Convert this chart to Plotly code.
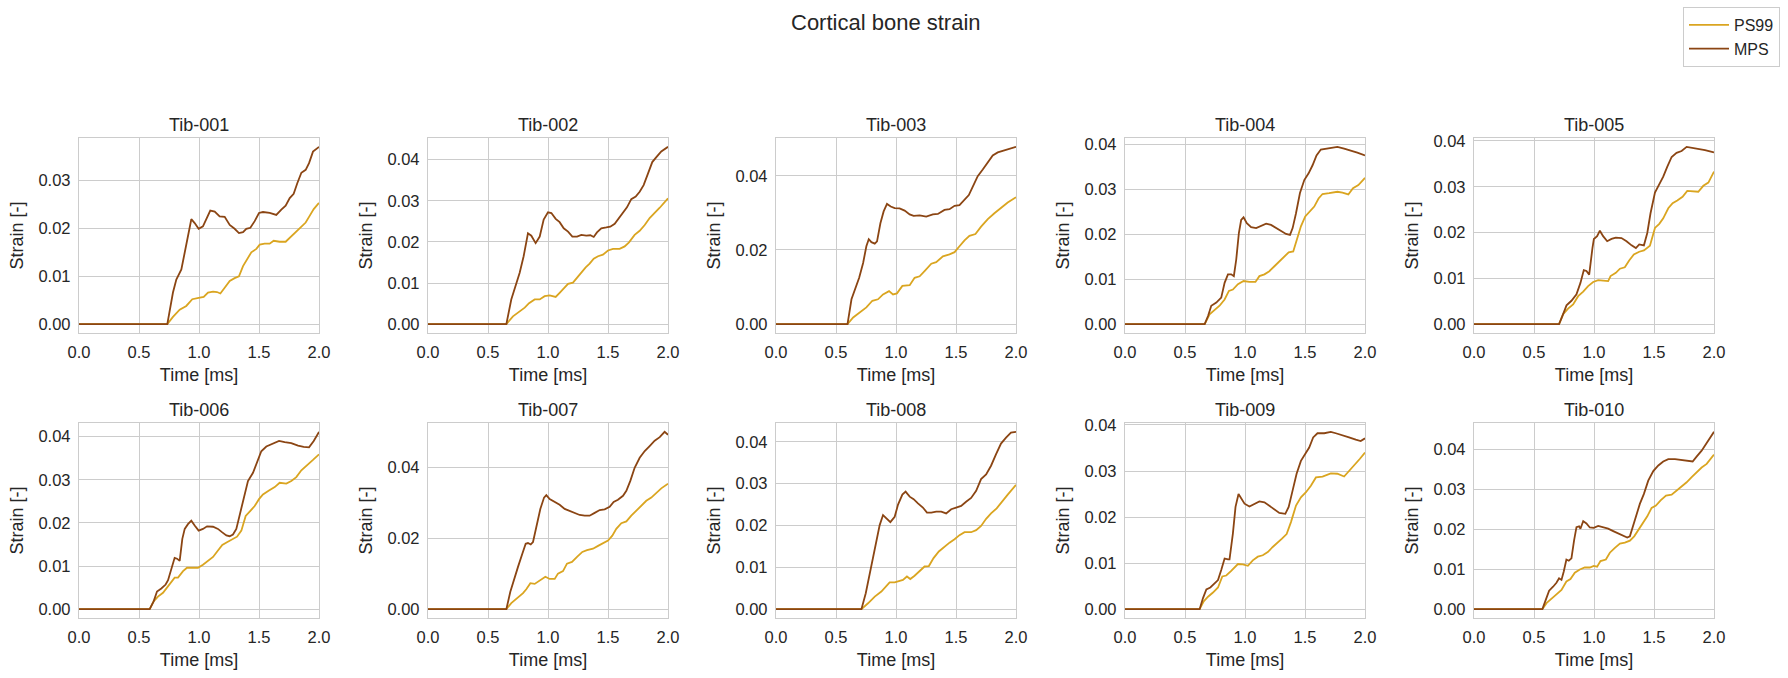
import plotly.graph_objects as go
from plotly.subplots import make_subplots

# ---------------- data (time [ms], strain [-]) ----------------
SPECIMENS = ["Tib-001", "Tib-002", "Tib-003", "Tib-004", "Tib-005",
             "Tib-006", "Tib-007", "Tib-008", "Tib-009", "Tib-010"]
Y_DTICK = [0.01, 0.01, 0.02, 0.01, 0.01, 0.01, 0.02, 0.01, 0.01, 0.01]
X_TICKS = [0.0, 0.5, 1.0, 1.5, 2.0]

TIB001_PS99 = [(0.0, 0.0), (0.736, 0.0), (0.783, 0.0015), (0.839, 0.0030), (0.894, 0.0038), (0.944, 0.0052),
               (0.997, 0.0055), (1.039, 0.0057), (1.075, 0.0066), (1.117, 0.0068), (1.150, 0.0067), (1.178, 0.0064),
               (1.214, 0.0076), (1.256, 0.0090), (1.297, 0.0096), (1.333, 0.0100), (1.367, 0.0121), (1.400, 0.0136),
               (1.436, 0.0150), (1.478, 0.0157), (1.506, 0.0166), (1.547, 0.0168), (1.589, 0.0168), (1.622, 0.0174),
               (1.672, 0.0172), (1.722, 0.0172), (1.769, 0.0183), (1.811, 0.0192), (1.853, 0.0203), (1.889, 0.0212),
               (1.922, 0.0226), (1.956, 0.0240), (2.0, 0.0253)]
TIB001_MPS = [(0.0, 0.0), (0.736, 0.0), (0.783, 0.0066), (0.811, 0.0093), (0.853, 0.0114), (0.894, 0.0163),
              (0.936, 0.0219), (0.964, 0.0211), (0.997, 0.0199), (1.033, 0.0204), (1.061, 0.0218), (1.094, 0.0237),
              (1.131, 0.0235), (1.172, 0.0225), (1.214, 0.0224), (1.256, 0.0207), (1.297, 0.0199), (1.333, 0.0190),
              (1.367, 0.0192), (1.394, 0.0199), (1.428, 0.0201), (1.464, 0.0215), (1.500, 0.0232), (1.533, 0.0234),
              (1.589, 0.0232), (1.644, 0.0228), (1.686, 0.0239), (1.722, 0.0247), (1.756, 0.0263), (1.789, 0.0272),
              (1.819, 0.0294), (1.853, 0.0316), (1.889, 0.0322), (1.917, 0.0336), (1.950, 0.0360), (1.992, 0.0369),
              (2.0, 0.0370)]

TIB002_PS99 = [(0.0, 0.0), (0.653, 0.0), (0.708, 0.0019), (0.764, 0.0030), (0.806, 0.0040), (0.842, 0.0051),
               (0.889, 0.0060), (0.931, 0.0060), (0.972, 0.0068), (1.014, 0.0070), (1.064, 0.0066), (1.097, 0.0076),
               (1.131, 0.0087), (1.167, 0.0098), (1.208, 0.0101), (1.242, 0.0113), (1.278, 0.0125), (1.314, 0.0138),
               (1.347, 0.0147), (1.381, 0.0159), (1.417, 0.0165), (1.458, 0.0169), (1.500, 0.0179), (1.542, 0.0183),
               (1.597, 0.0183), (1.639, 0.0189), (1.675, 0.0199), (1.722, 0.0217), (1.764, 0.0227), (1.806, 0.0241),
               (1.847, 0.0258), (1.889, 0.0270), (1.931, 0.0283), (2.0, 0.0306)]
TIB002_MPS = [(0.0, 0.0), (0.653, 0.0), (0.694, 0.0060), (0.731, 0.0093), (0.764, 0.0125), (0.797, 0.0165),
              (0.833, 0.0221), (0.861, 0.0215), (0.897, 0.0197), (0.931, 0.0213), (0.964, 0.0254), (1.000, 0.0272),
              (1.028, 0.0270), (1.064, 0.0256), (1.097, 0.0248), (1.131, 0.0233), (1.167, 0.0225), (1.203, 0.0213),
              (1.242, 0.0213), (1.278, 0.0217), (1.319, 0.0215), (1.353, 0.0216), (1.381, 0.0212), (1.408, 0.0223),
              (1.444, 0.0233), (1.486, 0.0235), (1.519, 0.0237), (1.556, 0.0244), (1.592, 0.0258), (1.631, 0.0271),
              (1.658, 0.0284), (1.694, 0.0304), (1.731, 0.0310), (1.764, 0.0322), (1.797, 0.0338), (1.833, 0.0366),
              (1.869, 0.0394), (1.903, 0.0406), (1.944, 0.0420), (2.0, 0.0431)]

TIB003_PS99 = [(0.0, 0.0), (0.596, 0.0), (0.643, 0.0018), (0.698, 0.0031), (0.753, 0.0045), (0.803, 0.0063),
               (0.850, 0.0067), (0.892, 0.0080), (0.942, 0.0089), (0.975, 0.0080), (1.008, 0.0083), (1.053, 0.0103),
               (1.114, 0.0105), (1.155, 0.0125), (1.197, 0.0129), (1.238, 0.0143), (1.294, 0.0163), (1.335, 0.0167),
               (1.391, 0.0183), (1.446, 0.0188), (1.488, 0.0194), (1.529, 0.0210), (1.571, 0.0226), (1.612, 0.0238),
               (1.662, 0.0243), (1.709, 0.0263), (1.765, 0.0283), (1.820, 0.0299), (1.875, 0.0314), (1.931, 0.0328),
               (2.0, 0.0342)]
TIB003_MPS = [(0.0, 0.0), (0.596, 0.0), (0.629, 0.0067), (0.657, 0.0094), (0.693, 0.0125), (0.726, 0.0165),
              (0.753, 0.0210), (0.773, 0.0229), (0.795, 0.0221), (0.823, 0.0217), (0.842, 0.0223), (0.870, 0.0272),
              (0.897, 0.0304), (0.925, 0.0324), (0.956, 0.0317), (0.989, 0.0313), (1.030, 0.0312), (1.072, 0.0306),
              (1.114, 0.0296), (1.147, 0.0292), (1.197, 0.0293), (1.252, 0.0290), (1.307, 0.0296), (1.349, 0.0297),
              (1.404, 0.0308), (1.446, 0.0310), (1.488, 0.0319), (1.529, 0.0321), (1.571, 0.0335), (1.607, 0.0348),
              (1.640, 0.0371), (1.681, 0.0399), (1.723, 0.0417), (1.765, 0.0438), (1.806, 0.0455), (1.848, 0.0463),
              (1.889, 0.0467), (1.939, 0.0474), (2.0, 0.0478)]

TIB004_PS99 = [(0.0, 0.0), (0.664, 0.0), (0.705, 0.0022), (0.747, 0.0032), (0.788, 0.0041), (0.830, 0.0055),
               (0.866, 0.0074), (0.899, 0.0077), (0.941, 0.0089), (0.988, 0.0096), (1.037, 0.0094), (1.087, 0.0094),
               (1.120, 0.0107), (1.162, 0.0111), (1.203, 0.0118), (1.245, 0.0129), (1.286, 0.0140), (1.328, 0.0151),
               (1.364, 0.0160), (1.402, 0.0162), (1.430, 0.0185), (1.466, 0.0218), (1.502, 0.0240), (1.541, 0.0251),
               (1.577, 0.0262), (1.613, 0.0280), (1.646, 0.0290), (1.701, 0.0292), (1.770, 0.0295), (1.812, 0.0293),
               (1.861, 0.0289), (1.900, 0.0303), (1.945, 0.0310), (2.0, 0.0326)]
TIB004_MPS = [(0.0, 0.0), (0.664, 0.0), (0.692, 0.0018), (0.719, 0.0041), (0.761, 0.0048), (0.802, 0.0059),
              (0.830, 0.0092), (0.858, 0.0111), (0.885, 0.0111), (0.907, 0.0107), (0.927, 0.0144), (0.949, 0.0203),
              (0.968, 0.0232), (0.988, 0.0238), (1.015, 0.0225), (1.051, 0.0216), (1.093, 0.0214), (1.134, 0.0219),
              (1.176, 0.0224), (1.217, 0.0221), (1.259, 0.0214), (1.300, 0.0207), (1.342, 0.0201), (1.375, 0.0199),
              (1.397, 0.0214), (1.425, 0.0247), (1.458, 0.0292), (1.494, 0.0321), (1.530, 0.0336), (1.563, 0.0354),
              (1.596, 0.0376), (1.632, 0.0389), (1.674, 0.0391), (1.729, 0.0393), (1.770, 0.0395), (1.826, 0.0391),
              (1.881, 0.0387), (1.936, 0.0382), (2.0, 0.0376)]

TIB005_PS99 = [(0.0, 0.0), (0.709, 0.0), (0.743, 0.0022), (0.784, 0.0034), (0.826, 0.0043), (0.868, 0.0061),
               (0.910, 0.0071), (0.951, 0.0083), (0.993, 0.0092), (1.035, 0.0096), (1.076, 0.0095), (1.118, 0.0094),
               (1.138, 0.0105), (1.182, 0.0112), (1.216, 0.0121), (1.257, 0.0124), (1.293, 0.0139), (1.332, 0.0152),
               (1.377, 0.0158), (1.416, 0.0161), (1.466, 0.0171), (1.508, 0.0210), (1.544, 0.0219), (1.577, 0.0231),
               (1.619, 0.0253), (1.655, 0.0264), (1.694, 0.0270), (1.738, 0.0278), (1.777, 0.0291), (1.828, 0.0289),
               (1.869, 0.0289), (1.911, 0.0302), (1.953, 0.0309), (2.0, 0.0333)]
TIB005_MPS = [(0.0, 0.0), (0.709, 0.0), (0.737, 0.0018), (0.771, 0.0041), (0.812, 0.0051), (0.854, 0.0065),
              (0.887, 0.0090), (0.915, 0.0118), (0.937, 0.0116), (0.960, 0.0108), (0.987, 0.0166), (0.999, 0.0186),
              (1.026, 0.0192), (1.049, 0.0204), (1.076, 0.0192), (1.110, 0.0181), (1.146, 0.0186), (1.182, 0.0189),
              (1.229, 0.0188), (1.271, 0.0181), (1.313, 0.0172), (1.349, 0.0166), (1.377, 0.0174), (1.416, 0.0172),
              (1.444, 0.0199), (1.471, 0.0242), (1.508, 0.0287), (1.544, 0.0305), (1.577, 0.0322), (1.611, 0.0344),
              (1.647, 0.0365), (1.688, 0.0374), (1.730, 0.0378), (1.772, 0.0387), (1.814, 0.0385), (1.869, 0.0383),
              (1.925, 0.0380), (2.0, 0.0375)]

TIB006_PS99 = [(0.0, 0.0), (0.589, 0.0), (0.622, 0.0018), (0.658, 0.0029), (0.700, 0.0038), (0.742, 0.0052),
               (0.769, 0.0063), (0.797, 0.0073), (0.825, 0.0073), (0.867, 0.0088), (0.900, 0.0096), (0.936, 0.0096),
               (0.992, 0.0096), (1.033, 0.0103), (1.075, 0.0113), (1.117, 0.0121), (1.158, 0.0136), (1.194, 0.0149),
               (1.233, 0.0155), (1.278, 0.0161), (1.317, 0.0168), (1.353, 0.0182), (1.389, 0.0216), (1.428, 0.0228),
               (1.464, 0.0239), (1.500, 0.0255), (1.533, 0.0266), (1.583, 0.0275), (1.631, 0.0283), (1.672, 0.0293),
               (1.728, 0.0291), (1.769, 0.0297), (1.811, 0.0306), (1.853, 0.0322), (1.900, 0.0333), (1.950, 0.0346),
               (2.0, 0.0359)]
TIB006_MPS = [(0.0, 0.0), (0.589, 0.0), (0.622, 0.0018), (0.650, 0.0041), (0.686, 0.0048), (0.722, 0.0057),
              (0.742, 0.0067), (0.769, 0.0094), (0.797, 0.0119), (0.817, 0.0117), (0.839, 0.0112), (0.861, 0.0163),
              (0.881, 0.0186), (0.908, 0.0197), (0.936, 0.0205), (0.964, 0.0194), (0.997, 0.0182), (1.033, 0.0186),
              (1.067, 0.0192), (1.117, 0.0191), (1.158, 0.0186), (1.194, 0.0178), (1.228, 0.0171), (1.256, 0.0169),
              (1.283, 0.0173), (1.311, 0.0186), (1.339, 0.0220), (1.367, 0.0255), (1.408, 0.0297), (1.450, 0.0316),
              (1.483, 0.0339), (1.519, 0.0366), (1.561, 0.0377), (1.603, 0.0382), (1.639, 0.0385), (1.667, 0.0390),
              (1.714, 0.0387), (1.769, 0.0385), (1.825, 0.0379), (1.872, 0.0376), (1.917, 0.0375), (1.956, 0.0390),
              (2.0, 0.0411)]

TIB007_PS99 = [(0.0, 0.0), (0.653, 0.0), (0.694, 0.0017), (0.750, 0.0033), (0.792, 0.0045), (0.819, 0.0056),
               (0.853, 0.0073), (0.889, 0.0071), (0.931, 0.0080), (0.978, 0.0091), (1.014, 0.0085), (1.056, 0.0085),
               (1.083, 0.0100), (1.125, 0.0107), (1.158, 0.0128), (1.200, 0.0133), (1.242, 0.0147), (1.286, 0.0161),
               (1.325, 0.0166), (1.375, 0.0170), (1.417, 0.0178), (1.458, 0.0186), (1.500, 0.0193), (1.536, 0.0207),
               (1.569, 0.0226), (1.611, 0.0242), (1.653, 0.0247), (1.694, 0.0263), (1.736, 0.0277), (1.778, 0.0291),
               (1.819, 0.0305), (1.861, 0.0314), (1.903, 0.0328), (1.944, 0.0340), (2.0, 0.0353)]
TIB007_MPS = [(0.0, 0.0), (0.653, 0.0), (0.686, 0.0049), (0.714, 0.0082), (0.750, 0.0119), (0.786, 0.0156),
              (0.814, 0.0184), (0.833, 0.0186), (0.856, 0.0182), (0.875, 0.0189), (0.903, 0.0235), (0.936, 0.0282),
              (0.967, 0.0314), (0.986, 0.0321), (1.014, 0.0310), (1.056, 0.0303), (1.097, 0.0294), (1.139, 0.0282),
              (1.181, 0.0277), (1.222, 0.0270), (1.264, 0.0265), (1.306, 0.0263), (1.347, 0.0263), (1.389, 0.0271),
              (1.431, 0.0279), (1.472, 0.0281), (1.514, 0.0288), (1.547, 0.0302), (1.583, 0.0308), (1.625, 0.0319),
              (1.653, 0.0333), (1.686, 0.0361), (1.722, 0.0398), (1.764, 0.0426), (1.806, 0.0445), (1.847, 0.0459),
              (1.889, 0.0474), (1.931, 0.0484), (1.972, 0.0499), (2.0, 0.0491)]

TIB008_PS99 = [(0.0, 0.0), (0.712, 0.0), (0.767, 0.0014), (0.823, 0.0030), (0.878, 0.0042), (0.920, 0.0054),
               (0.947, 0.0064), (0.989, 0.0064), (1.025, 0.0068), (1.058, 0.0070), (1.091, 0.0078), (1.119, 0.0072),
               (1.155, 0.0080), (1.197, 0.0092), (1.238, 0.0102), (1.274, 0.0103), (1.313, 0.0122), (1.357, 0.0138),
               (1.404, 0.0150), (1.446, 0.0159), (1.488, 0.0167), (1.529, 0.0177), (1.571, 0.0184), (1.626, 0.0184),
               (1.668, 0.0189), (1.709, 0.0199), (1.751, 0.0216), (1.792, 0.0229), (1.839, 0.0241), (1.884, 0.0258),
               (1.931, 0.0274), (2.0, 0.0297)]
TIB008_MPS = [(0.0, 0.0), (0.712, 0.0), (0.748, 0.0038), (0.781, 0.0086), (0.809, 0.0118), (0.837, 0.0165),
              (0.864, 0.0201), (0.892, 0.0225), (0.920, 0.0216), (0.953, 0.0208), (0.989, 0.0221), (1.017, 0.0250),
              (1.053, 0.0274), (1.080, 0.0281), (1.114, 0.0269), (1.147, 0.0263), (1.183, 0.0253), (1.224, 0.0243),
              (1.258, 0.0231), (1.294, 0.0231), (1.335, 0.0233), (1.377, 0.0233), (1.418, 0.0229), (1.460, 0.0239),
              (1.501, 0.0243), (1.543, 0.0247), (1.584, 0.0257), (1.626, 0.0266), (1.668, 0.0283), (1.709, 0.0311),
              (1.751, 0.0322), (1.792, 0.0343), (1.834, 0.0371), (1.875, 0.0396), (1.917, 0.0410), (1.958, 0.0422),
              (2.0, 0.0424)]

TIB009_PS99 = [(0.0, 0.0), (0.622, 0.0), (0.656, 0.0017), (0.692, 0.0027), (0.733, 0.0036), (0.775, 0.0047),
               (0.811, 0.0071), (0.844, 0.0073), (0.885, 0.0083), (0.921, 0.0092), (0.941, 0.0098), (0.982, 0.0097),
               (1.024, 0.0094), (1.065, 0.0106), (1.107, 0.0114), (1.148, 0.0117), (1.190, 0.0124), (1.231, 0.0135),
               (1.272, 0.0144), (1.308, 0.0153), (1.347, 0.0163), (1.383, 0.0189), (1.425, 0.0225), (1.466, 0.0243),
               (1.508, 0.0254), (1.549, 0.0268), (1.591, 0.0286), (1.646, 0.0288), (1.715, 0.0295), (1.770, 0.0294),
               (1.826, 0.0288), (1.873, 0.0301), (1.917, 0.0314), (1.956, 0.0326), (2.0, 0.0340)]
TIB009_MPS = [(0.0, 0.0), (0.622, 0.0), (0.650, 0.0024), (0.678, 0.0043), (0.711, 0.0047), (0.747, 0.0056),
              (0.775, 0.0063), (0.802, 0.0085), (0.830, 0.0110), (0.858, 0.0108), (0.871, 0.0108), (0.899, 0.0164),
              (0.921, 0.0222), (0.946, 0.0250), (0.968, 0.0242), (0.996, 0.0229), (1.037, 0.0223), (1.079, 0.0229),
              (1.120, 0.0234), (1.162, 0.0232), (1.203, 0.0225), (1.245, 0.0216), (1.286, 0.0209), (1.336, 0.0207),
              (1.364, 0.0222), (1.397, 0.0258), (1.430, 0.0294), (1.466, 0.0322), (1.502, 0.0337), (1.535, 0.0351),
              (1.568, 0.0373), (1.604, 0.0382), (1.660, 0.0382), (1.715, 0.0385), (1.757, 0.0382), (1.812, 0.0378),
              (1.867, 0.0373), (1.923, 0.0368), (1.964, 0.0365), (2.0, 0.0371)]

TIB010_PS99 = [(0.0, 0.0), (0.570, 0.0), (0.604, 0.0015), (0.645, 0.0027), (0.687, 0.0037), (0.729, 0.0048),
               (0.770, 0.0069), (0.804, 0.0075), (0.840, 0.0091), (0.882, 0.0099), (0.923, 0.0104), (0.965, 0.0104),
               (0.998, 0.0108), (1.026, 0.0106), (1.054, 0.0120), (1.099, 0.0124), (1.132, 0.0141), (1.174, 0.0153),
               (1.216, 0.0164), (1.257, 0.0166), (1.299, 0.0171), (1.335, 0.0182), (1.377, 0.0201), (1.410, 0.0214),
               (1.444, 0.0232), (1.480, 0.0253), (1.516, 0.0259), (1.555, 0.0272), (1.600, 0.0284), (1.647, 0.0286),
               (1.689, 0.0296), (1.730, 0.0306), (1.772, 0.0317), (1.814, 0.0330), (1.855, 0.0342), (1.897, 0.0354),
               (1.939, 0.0363), (2.0, 0.0386)]
TIB010_MPS = [(0.0, 0.0), (0.570, 0.0), (0.598, 0.0023), (0.626, 0.0046), (0.659, 0.0056), (0.687, 0.0066),
              (0.709, 0.0077), (0.729, 0.0073), (0.748, 0.0094), (0.770, 0.0124), (0.790, 0.0121), (0.812, 0.0127),
              (0.834, 0.0172), (0.854, 0.0205), (0.876, 0.0207), (0.887, 0.0201), (0.910, 0.0220), (0.937, 0.0214),
              (0.965, 0.0204), (0.998, 0.0203), (1.035, 0.0208), (1.076, 0.0205), (1.118, 0.0201), (1.160, 0.0195),
              (1.202, 0.0189), (1.243, 0.0182), (1.277, 0.0179), (1.299, 0.0182), (1.321, 0.0205), (1.349, 0.0234),
              (1.382, 0.0263), (1.416, 0.0288), (1.452, 0.0321), (1.494, 0.0345), (1.536, 0.0359), (1.577, 0.0369),
              (1.619, 0.0375), (1.675, 0.0375), (1.730, 0.0373), (1.780, 0.0371), (1.822, 0.0369), (1.855, 0.0381),
              (1.897, 0.0396), (1.939, 0.0415), (2.0, 0.0443)]

SERIES = [
    (TIB001_PS99, TIB001_MPS), (TIB002_PS99, TIB002_MPS), (TIB003_PS99, TIB003_MPS),
    (TIB004_PS99, TIB004_MPS), (TIB005_PS99, TIB005_MPS), (TIB006_PS99, TIB006_MPS),
    (TIB007_PS99, TIB007_MPS), (TIB008_PS99, TIB008_MPS), (TIB009_PS99, TIB009_MPS),
    (TIB010_PS99, TIB010_MPS),
]

# ---------------- style ----------------
W, H = 1788, 678
FONT = "Liberation Sans, Arial, Helvetica, sans-serif"
TEXT = "#262626"
GRID = "#cccccc"
C_PS99 = "#DAA520"
C_MPS = "#8B4513"
COL_L = [79, 428, 776, 1125, 1474]
AX_W = 240
ROW_T = [138, 423]
AX_H = 195

fig = make_subplots(rows=2, cols=5)

annotations = []
for i, name in enumerate(SPECIMENS):
    r, c = divmod(i, 5)
    ps, mp = SERIES[i]
    for data, label, color in ((ps, "PS99", C_PS99), (mp, "MPS", C_MPS)):
        fig.add_trace(go.Scatter(
            x=[p[0] for p in data], y=[p[1] for p in data], mode="lines",
            name=label, line=dict(color=color, width=1.8),
            showlegend=(i == 0), legendgroup=label,
        ), row=r + 1, col=c + 1)

    ymax = max(max(p[1] for p in ps), max(p[1] for p in mp))
    ymin = min(min(p[1] for p in ps), min(p[1] for p in mp))
    span = ymax - ymin
    ylo, yhi = ymin - 0.05 * span, ymax + 0.05 * span
    sfx = "" if i == 0 else str(i + 1)
    x0 = COL_L[c] / W
    x1 = (COL_L[c] + AX_W) / W
    y1 = 1 - ROW_T[r] / H
    y0 = 1 - (ROW_T[r] + AX_H) / H
    common = dict(showgrid=True, gridcolor=GRID, gridwidth=1, showline=True, mirror=True,
                  linecolor=GRID, linewidth=1.3, zeroline=False, ticks="outside", ticklen=4,
                  tickcolor="rgba(0,0,0,0)", tickfont=dict(size=16.5, color=TEXT, family=FONT),
                  automargin=False)
    fig.layout["xaxis" + sfx].update(
        domain=[x0, x1], range=[X_TICKS[0], X_TICKS[-1]], tickvals=X_TICKS, tickformat=".1f",
        title=dict(text="Time [ms]", font=dict(size=18, color=TEXT, family=FONT), standoff=8), **common)
    nt = int(yhi / Y_DTICK[i] + 1e-9)
    fig.layout["yaxis" + sfx].update(
        domain=[y0, y1], range=[ylo, yhi],
        tickvals=[k * Y_DTICK[i] for k in range(nt + 1)], tickformat=".2f",
        title=dict(text="Strain [-]", font=dict(size=18, color=TEXT, family=FONT), standoff=10), **common)
    annotations.append(dict(text=name, x=(x0 + x1) / 2, y=y1, xref="paper", yref="paper",
                            xanchor="center", yanchor="bottom", yshift=1, showarrow=False,
                            font=dict(size=18, color=TEXT, family=FONT)))

annotations.append(dict(text="Cortical bone strain", x=886 / W, y=1 - 23 / H, xref="paper", yref="paper",
                        xanchor="center", yanchor="middle", showarrow=False,
                        font=dict(size=22, color=TEXT, family=FONT)))

fig.update_layout(
    width=W, height=H, margin=dict(l=0, r=0, t=0, b=0, autoexpand=False),
    paper_bgcolor="white", plot_bgcolor="white",
    font=dict(family=FONT, color=TEXT),
    annotations=annotations,
    legend=dict(x=1780 / W, xanchor="right", y=1 - 7 / H, yanchor="top",
                bgcolor="white", bordercolor=GRID, borderwidth=1, itemwidth=40,
                font=dict(size=16, color=TEXT, family=FONT), tracegroupgap=0),
)

fig.write_html("out.html")
